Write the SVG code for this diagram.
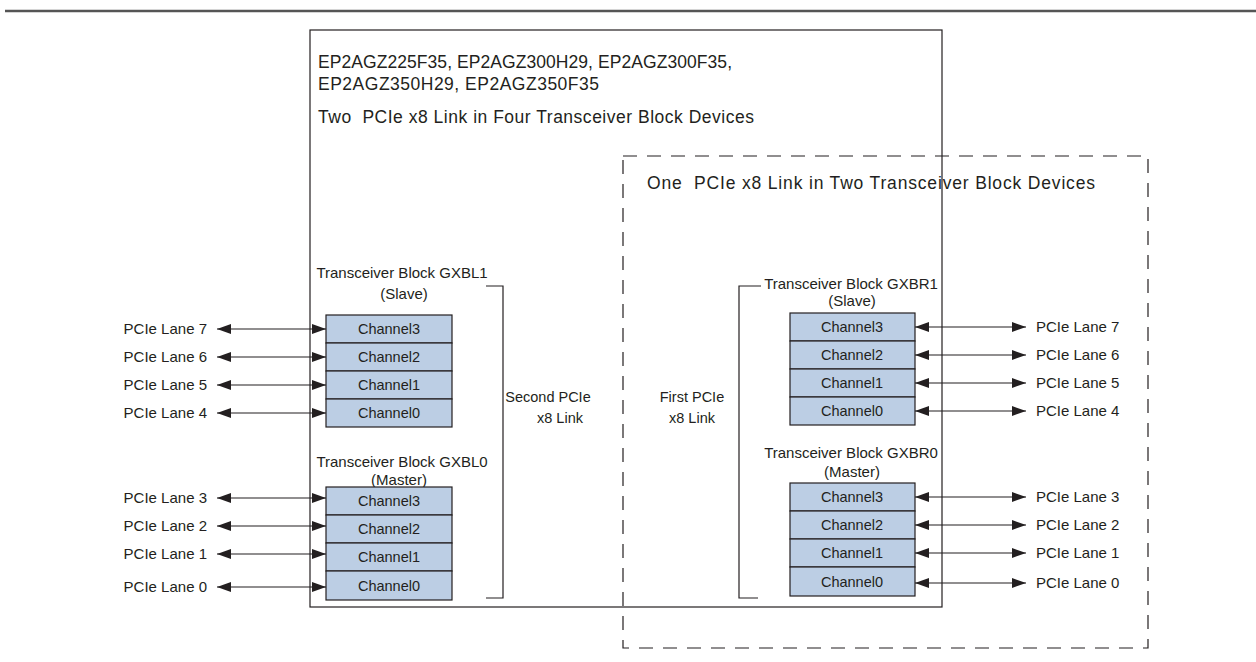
<svg xmlns="http://www.w3.org/2000/svg" width="1256" height="662" viewBox="0 0 1256 662">
<defs>
<marker id="ah" viewBox="0 0 14 10" refX="14" refY="5" markerWidth="14" markerHeight="10" markerUnits="userSpaceOnUse" orient="auto-start-reverse">
<path d="M0,0 L14,5 L0,10 Z" fill="#231f20"/>
</marker>
<style>
text{font-family:"Liberation Sans",Arial,sans-serif;fill:#231f20;white-space:pre}
.hd{font-size:17.5px}
.lb{font-size:15px}
.sm{font-size:14.5px}
.ch{fill:#bccee4;stroke:#231f20;stroke-width:1.2}
.ln{stroke:#231f20;stroke-width:1.2;fill:none}
.ar{stroke:#231f20;stroke-width:1.2;marker-start:url(#ah);marker-end:url(#ah)}
.mid{text-anchor:middle}
.end{text-anchor:end}
</style>
</defs>
<rect width="1256" height="662" fill="#fff"/>
<line x1="5" y1="11" x2="1256" y2="11" stroke="#555" stroke-width="2.5"/>

<g id="device">
<rect x="310" y="30" width="632" height="577" fill="none" stroke="#231f20" stroke-width="1.2"/>
<text class="hd" x="318" y="68" textLength="414">EP2AGZ225F35, EP2AGZ300H29, EP2AGZ300F35,</text>
<text class="hd" x="318" y="90" textLength="281">EP2AGZ350H29, EP2AGZ350F35</text>
<text class="hd" x="318" y="123" xml:space="preserve" textLength="436">Two  PCIe x8 Link in Four Transceiver Block Devices</text>
</g>

<g id="twoblock">
<rect x="623" y="156" width="525" height="492" fill="none" stroke="#231f20" stroke-width="1.2" stroke-dasharray="14,10"/>
<text class="hd" x="647" y="189" xml:space="preserve" textLength="448">One  PCIe x8 Link in Two Transceiver Block Devices</text>
</g>

<g id="gxbl1">
<text class="lb mid" x="402" y="278">Transceiver Block GXBL1</text>
<text class="lb mid" x="404" y="299">(Slave)</text>
<rect class="ch" x="326" y="315" width="126" height="28"/><text class="sm mid" x="389" y="334">Channel3</text>
<rect class="ch" x="326" y="343" width="126" height="28"/><text class="sm mid" x="389" y="362">Channel2</text>
<rect class="ch" x="326" y="371" width="126" height="28"/><text class="sm mid" x="389" y="390">Channel1</text>
<rect class="ch" x="326" y="399" width="126" height="28"/><text class="sm mid" x="389" y="418">Channel0</text>
</g>

<g id="gxbl0">
<text class="lb mid" x="402" y="467">Transceiver Block GXBL0</text>
<text class="lb mid" x="399" y="485">(Master)</text>
<rect class="ch" x="326" y="487" width="126" height="28"/><text class="sm mid" x="389" y="506">Channel3</text>
<rect class="ch" x="326" y="515" width="126" height="28"/><text class="sm mid" x="389" y="534">Channel2</text>
<rect class="ch" x="326" y="543" width="126" height="28"/><text class="sm mid" x="389" y="562">Channel1</text>
<rect class="ch" x="326" y="571" width="126" height="29"/><text class="sm mid" x="389" y="591">Channel0</text>
</g>

<g id="gxbr1">
<text class="lb mid" x="851" y="289">Transceiver Block GXBR1</text>
<text class="lb mid" x="852" y="306">(Slave)</text>
<rect class="ch" x="790" y="313" width="125" height="28"/><text class="sm mid" x="852" y="332">Channel3</text>
<rect class="ch" x="790" y="341" width="125" height="28"/><text class="sm mid" x="852" y="360">Channel2</text>
<rect class="ch" x="790" y="369" width="125" height="28"/><text class="sm mid" x="852" y="388">Channel1</text>
<rect class="ch" x="790" y="397" width="125" height="28"/><text class="sm mid" x="852" y="416">Channel0</text>
</g>

<g id="gxbr0">
<text class="lb mid" x="851" y="458">Transceiver Block GXBR0</text>
<text class="lb mid" x="852" y="477">(Master)</text>
<rect class="ch" x="790" y="483" width="125" height="28"/><text class="sm mid" x="852" y="502">Channel3</text>
<rect class="ch" x="790" y="511" width="125" height="28"/><text class="sm mid" x="852" y="530">Channel2</text>
<rect class="ch" x="790" y="539" width="125" height="28"/><text class="sm mid" x="852" y="558">Channel1</text>
<rect class="ch" x="790" y="567" width="125" height="29"/><text class="sm mid" x="852" y="587">Channel0</text>
</g>

<g id="second-link">
<text class="sm mid" x="548" y="402">Second PCIe</text>
<text class="sm mid" x="560" y="423">x8 Link</text>
</g>
<g id="first-link">
<text class="sm mid" x="692" y="402">First PCIe</text>
<text class="sm mid" x="692" y="423">x8 Link</text>
</g>

<g id="lanes-left">
<text class="lb end" x="207" y="334">PCIe Lane 7</text>
<text class="lb end" x="207" y="362">PCIe Lane 6</text>
<text class="lb end" x="207" y="390">PCIe Lane 5</text>
<text class="lb end" x="207" y="418">PCIe Lane 4</text>
<text class="lb end" x="207" y="503">PCIe Lane 3</text>
<text class="lb end" x="207" y="531">PCIe Lane 2</text>
<text class="lb end" x="207" y="559">PCIe Lane 1</text>
<text class="lb end" x="207" y="592">PCIe Lane 0</text>
</g>
<g id="lanes-right">
<text class="lb" x="1036" y="332">PCIe Lane 7</text>
<text class="lb" x="1036" y="360">PCIe Lane 6</text>
<text class="lb" x="1036" y="388">PCIe Lane 5</text>
<text class="lb" x="1036" y="416">PCIe Lane 4</text>
<text class="lb" x="1036" y="502">PCIe Lane 3</text>
<text class="lb" x="1036" y="530">PCIe Lane 2</text>
<text class="lb" x="1036" y="558">PCIe Lane 1</text>
<text class="lb" x="1036" y="588">PCIe Lane 0</text>
</g>

<g id="connectors">
<line class="ar" x1="217" y1="329" x2="326" y2="329"/>
<line class="ar" x1="217" y1="357" x2="326" y2="357"/>
<line class="ar" x1="217" y1="385" x2="326" y2="385"/>
<line class="ar" x1="217" y1="413" x2="326" y2="413"/>
<line class="ar" x1="217" y1="498" x2="326" y2="498"/>
<line class="ar" x1="217" y1="526" x2="326" y2="526"/>
<line class="ar" x1="217" y1="554" x2="326" y2="554"/>
<line class="ar" x1="217" y1="587" x2="326" y2="587"/>
<line class="ar" x1="915" y1="327" x2="1026" y2="327"/>
<line class="ar" x1="915" y1="355" x2="1026" y2="355"/>
<line class="ar" x1="915" y1="383" x2="1026" y2="383"/>
<line class="ar" x1="915" y1="411" x2="1026" y2="411"/>
<line class="ar" x1="915" y1="497" x2="1026" y2="497"/>
<line class="ar" x1="915" y1="525" x2="1026" y2="525"/>
<line class="ar" x1="915" y1="553" x2="1026" y2="553"/>
<line class="ar" x1="915" y1="583" x2="1026" y2="583"/>
<polyline class="ln" points="486,286 503,286 503,598 486,598"/>
<polyline class="ln" points="761,286 739,286 739,598 758,598"/>
</g>
</svg>
